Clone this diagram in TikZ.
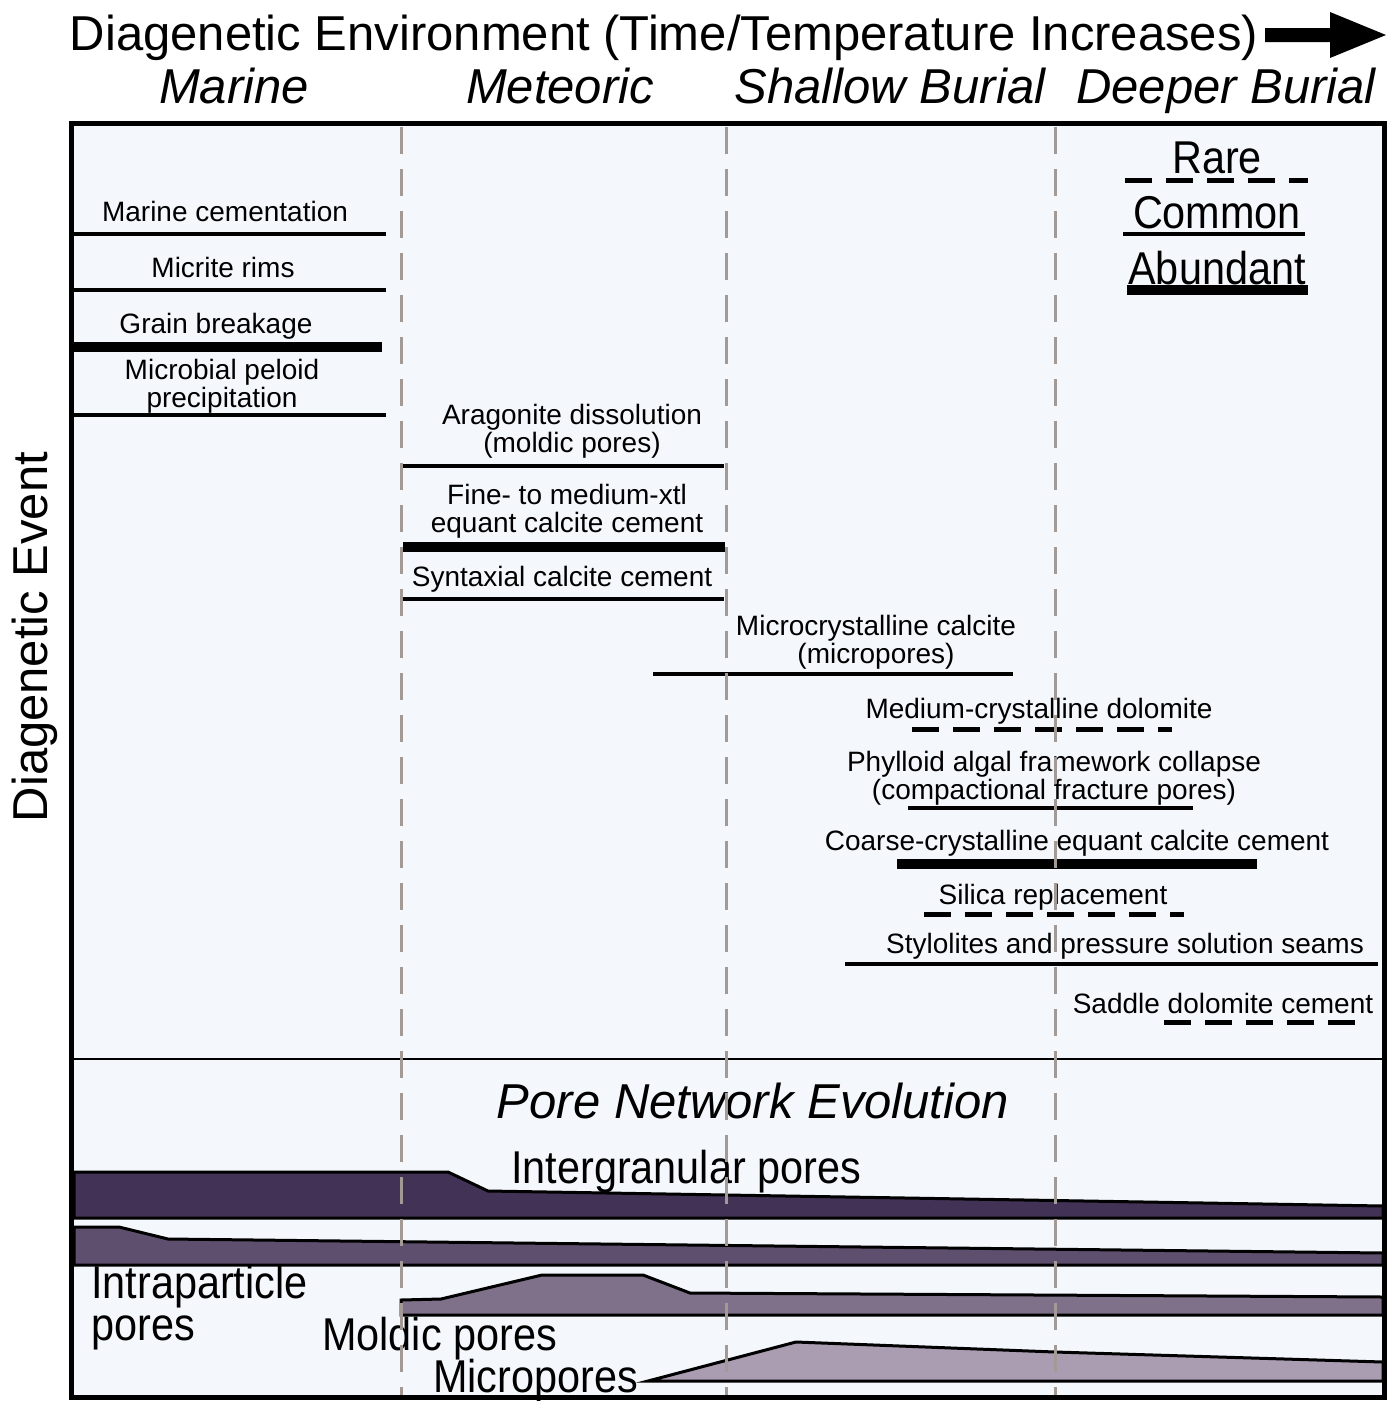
\documentclass[tikz,border=0pt]{standalone}
\usepackage{fontspec}
\setmainfont{Liberation Sans}
\definecolor{bgc}{HTML}{F4F8FC}
\definecolor{envgray}{HTML}{A39A95}
\definecolor{pa}{HTML}{423356}
\definecolor{pb}{HTML}{5F4F6F}
\definecolor{pc}{HTML}{7F7189}
\definecolor{pd}{HTML}{AA9CB1}
\tikzset{
  evlab/.style={font=\fontsize{28}{30}\selectfont, anchor=base, inner sep=0pt},
  bigtxt/.style={font=\fontsize{49}{52}\selectfont, anchor=base, inner sep=0pt},
  bigit/.style={font=\fontsize{49}{52}\selectfont\itshape, anchor=base, inner sep=0pt},
  porelab/.style={font=\fontsize{46}{48}\selectfont, anchor=base west, inner sep=0pt},
  leglab/.style={font=\fontsize{46}{48}\selectfont, anchor=base, inner sep=0pt},
  commonln/.style={line width=4.3pt},
  abundantln/.style={line width=9.5pt},
  rareln/.style={line width=5pt, dash pattern=on 27pt off 14pt},
  envline/.style={draw=envgray, line width=3pt, dash pattern=on 27pt off 15pt},
  band/.style={draw=black, line width=3pt, line join=miter},
}
\newcommand{\cond}[1]{\scalebox{0.9}[1]{#1}}
\begin{document}
\begin{tikzpicture}[x=1pt,y=-1pt]
\useasboundingbox (0,0) rectangle (1389,1401);
\fill[bgc] (71,123) rectangle (1384,1397);

% header
\node[bigtxt] (title) at (664,50) {Diagenetic Environment (Time/Temperature Increases)};
\fill (1265,28) -- (1330,28) -- (1330,12) -- (1386,35) -- (1330,58) -- (1330,42) -- (1265,42) -- cycle;
\node[bigit] (marine) at (234,103) {Marine};
\node[bigit] (meteoric) at (560,103) {Meteoric};
\node[bigit] (shallow) at (890,103) {Shallow Burial};
\node[bigit] (deeper) at (1226,103) {Deeper Burial};
\node[bigtxt, rotate=90] (yaxis) at (47,637) {Diagenetic Event};

% legend
\node[leglab] (rare) at (1217,173) {\cond{Rare}};
\draw[rareln] (1125,180) -- (1308,180);
\node[leglab] (common) at (1217,228) {\cond{Common}};
\draw[commonln] (1123,234) -- (1305,234);
\node[leglab] (abundant) at (1217,284) {\cond{Abundant}};
\draw[abundantln] (1127,290) -- (1308,290);

% events
\node[evlab] (e1) at (225,221) {Marine cementation};
\draw[commonln] (74,234) -- (386,234);
\node[evlab] (e2) at (223,277) {Micrite rims};
\draw[commonln] (74,290) -- (386,290);
\node[evlab] (e3) at (216,333) {Grain breakage};
\draw[abundantln] (74,347) -- (382,347);
\node[evlab] (e4a) at (222,379) {Microbial peloid};
\node[evlab] (e4b) at (222,407) {precipitation};
\draw[commonln] (74,415) -- (386,415);
\node[evlab] (e5a) at (572,424) {Aragonite dissolution};
\node[evlab] (e5b) at (572,452) {(moldic pores)};
\draw[commonln] (403,466) -- (724,466);
\node[evlab] (e6a) at (567,504) {Fine- to medium-xtl};
\node[evlab] (e6b) at (567,532) {equant calcite cement};
\draw[abundantln] (403,547) -- (725,547);
\node[evlab] (e7) at (562,586) {Syntaxial calcite cement};
\draw[commonln] (403,599) -- (724,599);
\node[evlab] (e8a) at (876,635) {Microcrystalline calcite};
\node[evlab] (e8b) at (876,663) {(micropores)};
\draw[commonln] (653,674) -- (1013,674);
\node[evlab] (e9) at (1039,718) {Medium-crystalline dolomite};
\draw[rareln] (912,729) -- (1172,729);
\node[evlab] (e10a) at (1054,771) {Phylloid algal framework collapse};
\node[evlab] (e10b) at (1054,799) {(compactional fracture pores)};
\draw[commonln] (908,808) -- (1193,808);
\node[evlab] (e11) at (1077,850) {Coarse-crystalline equant calcite cement};
\draw[abundantln] (897,864) -- (1257,864);
\node[evlab] (e12) at (1053,904) {Silica replacement};
\draw[rareln] (924,914) -- (1184,914);
\node[evlab] (e13) at (1125,953) {Stylolites and pressure solution seams};
\draw[commonln] (845,964) -- (1378,964);
\node[evlab] (e14) at (1223,1013) {Saddle dolomite cement};
\draw[rareln] (1164,1022) -- (1360,1022);

% separator
\draw[line width=2.5pt] (71,1059) -- (1384,1059);

% pore network
\node[bigit] (pne) at (753,1118) {Pore Network Evolution};
\filldraw[band, fill=pa] (74,1172) -- (448,1172) -- (488,1191) -- (1383,1206) -- (1383,1218) -- (74,1218) -- cycle;
\filldraw[band, fill=pb] (74,1227) -- (119,1227) -- (168,1239) -- (1383,1253) -- (1383,1265) -- (74,1265) -- cycle;
\filldraw[band, fill=pc] (401,1300) -- (441,1299) -- (542,1275) -- (643,1275) -- (690,1293) -- (1383,1297) -- (1383,1315) -- (401,1315) -- cycle;
\filldraw[band, fill=pd] (648,1381) -- (796,1342) -- (1055,1352) -- (1383,1362) -- (1383,1381) -- cycle;
\node[porelab] (inter) at (511,1183) {\cond{Intergranular pores}};
\node[porelab] (intra1) at (91,1298) {\cond{Intraparticle}};
\node[porelab] (intra2) at (91,1340) {\cond{pores}};
\node[porelab] (moldic) at (322,1350) {\cond{Moldic pores}};
\node[porelab] (micro) at (433,1392) {\cond{Micropores}};

% environment boundaries
\draw[envline] (401,127) -- (401,1395);
\draw[envline] (726,127) -- (726,1395);
\draw[envline] (1055,127) -- (1055,1395);

% frame
\draw[line width=5pt] (71,123) rectangle (1384,1397);
\end{tikzpicture}
\end{document}
